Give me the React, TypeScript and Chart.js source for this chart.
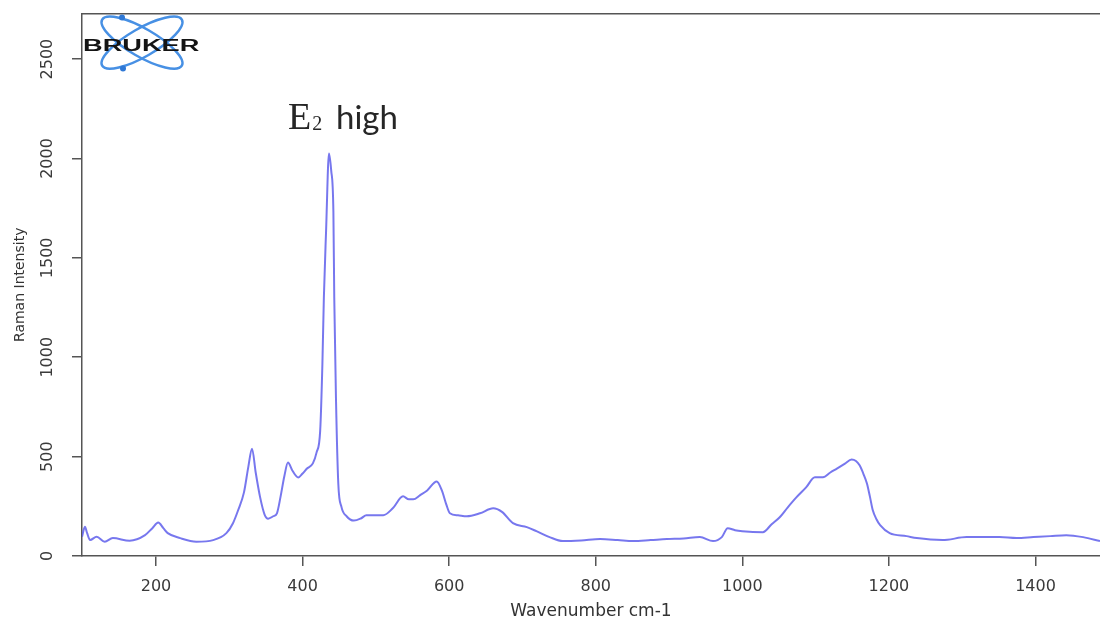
import React, { useEffect, useRef } from 'react';
import { Chart, registerables } from 'chart.js';

Chart.register(...registerables);

// ---- data ----
const wavenumbers = [
  99, 103, 106, 110, 119, 130, 141, 164, 185, 195, 203, 210, 216, 233, 255, 278, 296, 305, 312, 320,
  326, 331, 336, 342, 348, 353, 360, 365, 370, 375, 380, 386, 394, 400, 406, 414, 419, 424, 427, 429,
  432, 436, 439, 442, 443.2, 445.5, 448.7, 453, 460, 470, 480, 487, 500, 510, 523, 537, 545, 551, 560, 570,
  583, 590, 596, 601, 612, 624, 642, 660, 672, 687, 706, 719, 737, 755, 780, 806, 830, 851, 875, 897,
  920, 942, 960, 972, 980, 990, 1000, 1028, 1040, 1051, 1062, 1074, 1087, 1099, 1110, 1120, 1129, 1140, 1149, 1155,
  1160, 1165, 1170, 1174, 1178, 1183, 1188, 1201, 1224, 1238, 1273, 1306, 1351, 1374, 1397, 1420, 1442, 1465, 1488,
];
const intensities = [
  97, 147, 115, 80, 97, 72, 90, 77, 105, 140, 168, 140, 115, 90, 72, 80, 115, 165, 230, 320,
  450, 540, 420, 296, 210, 188, 200, 215, 300, 400, 470, 430, 395, 415, 440, 466, 520, 631, 966, 1298,
  1632, 2025, 1940, 1733, 1298, 798, 365, 247, 200, 178, 190, 205, 205, 205, 240, 300, 285, 285, 305, 330,
  375, 330, 260, 215, 205, 200, 215, 240, 222, 165, 145, 125, 95, 75, 78, 85, 80, 75, 80, 85,
  88, 95, 75, 95, 140, 130, 125, 120, 160, 195, 245, 296, 345, 396, 396, 420, 440, 465, 485, 478,
  456, 415, 365, 300, 230, 185, 155, 115, 100, 90, 80, 95, 95, 90, 95, 100, 105, 95, 75,
];
const xTickValues = [200, 400, 600, 800, 1000, 1200, 1400];
const yTickValues = [0, 500, 1000, 1500, 2000, 2500];
const xTitle = 'Wavenumber cm-1';
const yTitle = 'Raman Intensity';
const peakLabelMain = 'E';
const peakLabelSub = '2';
const peakLabelRest = 'high';
const peakWavenumber = 436;
const peakIntensity = 2025;
const logoText = 'BRUKER';

const overlayPlugin = {
  id: 'overlay',
  afterDraw(chart: any) {
    const ctx: CanvasRenderingContext2D = chart.ctx;
    const xs = chart.scales.x;
    const ys = chart.scales.y;
    const area = chart.chartArea;
    ctx.save();
    // peak annotation
    const px = xs.getPixelForValue(peakWavenumber);
    const py = ys.getPixelForValue(peakIntensity);
    const bx = px - 41;
    const by = py - 25;
    ctx.fillStyle = '#262626';
    ctx.textAlign = 'left';
    ctx.textBaseline = 'alphabetic';
    ctx.font = '38px "Liberation Serif"';
    ctx.fillText(peakLabelMain, bx, by);
    const ew = ctx.measureText(peakLabelMain).width;
    ctx.font = '20px "Liberation Serif"';
    ctx.fillText(peakLabelSub, bx + ew + 1, by + 1);
    ctx.font = '33px Lato';
    ctx.fillText(peakLabelRest, bx + 48, by);

    // logo
    const cx = area.left + 60;
    const cy = area.top + 29;
    ctx.strokeStyle = '#4790e4';
    ctx.lineWidth = 2.5;
    for (const ang of [Math.PI / 6, -Math.PI / 6]) {
      ctx.beginPath();
      ctx.ellipse(cx, cy, 46, 14, ang, 0, Math.PI * 2);
      ctx.stroke();
    }
    ctx.fillStyle = '#2f78d6';
    ctx.beginPath();
    ctx.arc(cx - 20, cy - 25, 3, 0, Math.PI * 2);
    ctx.fill();
    ctx.beginPath();
    ctx.arc(cx - 19, cy + 26, 3, 0, Math.PI * 2);
    ctx.fill();
    ctx.save();
    ctx.translate(area.left + 1, area.top + 37);
    ctx.scale(1.7, 1);
    ctx.font = 'bold 16px "Liberation Sans"';
    ctx.fillStyle = '#141414';
    ctx.fillText(logoText, 0, 0);
    ctx.restore();
    ctx.restore();
  },
};

export default function App() {
  const canvasRef = useRef<HTMLCanvasElement | null>(null);

  useEffect(() => {
    const canvas = canvasRef.current;
    if (!canvas) return;
    const axisColor = '#555555';
    const labelColor = '#3a3a3a';
    const chart = new Chart(canvas, {
      type: 'line',
      data: {
        datasets: [
          {
            data: wavenumbers.map((w, i) => ({ x: w, y: intensities[i] })),
            borderColor: 'rgba(95,95,235,0.85)',
            borderWidth: 2,
            pointRadius: 0,
            fill: false,
            cubicInterpolationMode: 'monotone',
          },
        ],
      },
      options: {
        animation: false,
        responsive: false,
        devicePixelRatio: 1,
        layout: { padding: 0 },
        plugins: { legend: { display: false }, tooltip: { enabled: false } },
        scales: {
          x: {
            type: 'linear',
            position: 'bottom',
            min: 99,
            max: 1488,
            afterBuildTicks: (s: any) => {
              s.ticks = xTickValues.map((v) => ({ value: v }));
            },
            afterFit: (s: any) => {
              s.height = 63;
            },
            ticks: {
              font: { family: 'DejaVu Sans', size: 16 },
              color: labelColor,
              padding: 11,
              minRotation: 0,
              maxRotation: 0,
              callback: (v: any) => String(v),
            },
            grid: { drawOnChartArea: false, drawTicks: true, tickLength: 10, color: axisColor, lineWidth: 1.5 },
            border: { display: true, color: axisColor, width: 1.5 },
            title: {
              display: true,
              text: xTitle,
              font: { family: 'DejaVu Sans', size: 17 },
              color: '#333333',
              padding: { top: 0, bottom: -3 },
            },
          },
          xTop: {
            type: 'linear',
            position: 'top',
            min: 99,
            max: 1488,
            ticks: { display: false },
            grid: { display: false, drawTicks: false },
            border: { display: true, color: axisColor, width: 1.5 },
            afterFit: (s: any) => {
              s.height = 11;
            },
          },
          y: {
            type: 'linear',
            min: 0,
            max: 2729,
            afterBuildTicks: (s: any) => {
              s.ticks = yTickValues.map((v) => ({ value: v }));
            },
            afterFit: (s: any) => {
              s.width = 82;
            },
            ticks: {
              font: { family: 'DejaVu Sans', size: 16 },
              color: labelColor,
              padding: 4,
              minRotation: 90,
              maxRotation: 90,
              crossAlign: 'center',
              callback: (v: any) => String(v),
            },
            grid: { drawOnChartArea: false, drawTicks: true, tickLength: 10, color: axisColor, lineWidth: 1.5 },
            border: { display: true, color: axisColor, width: 1.5 },
            title: {
              display: true,
              text: yTitle,
              font: { family: 'DejaVu Sans', size: 14 },
              color: '#333333',
              padding: { top: 12, bottom: 0 },
            },
          },
        },
      } as any,
      plugins: [overlayPlugin],
    });
    return () => chart.destroy();
  }, []);

  return (
    <div style={{ position: 'fixed', left: 0, top: 0, width: 1100, height: 619, background: '#ffffff', overflow: 'hidden' }}>
      <canvas ref={canvasRef} width={1100} height={619} style={{ display: 'block', width: 1100, height: 619 }} />
    </div>
  );
}
